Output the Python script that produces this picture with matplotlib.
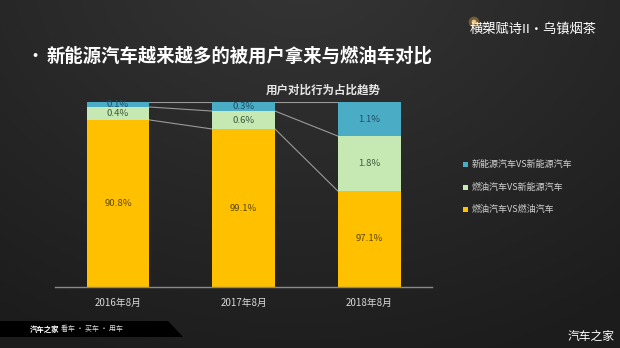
import numpy as np
import matplotlib
matplotlib.use("Agg")
import matplotlib.pyplot as plt
from matplotlib.patches import Polygon, Rectangle

plt.rcParams['font.family'] = ['Noto Sans CJK SC', 'DejaVu Sans']

# ---- data ----
categories = ["2016年8月", "2017年8月", "2018年8月"]
series_names = ["燃油汽车VS燃油汽车", "燃油汽车VS新能源汽车", "新能源汽车VS新能源汽车"]
# displayed segment heights as drawn in the reference (stylised, share of bar height)
fuel_fuel_h = [90.3, 85.4, 51.9]
fuel_nev_h = [7.0, 9.7, 29.7]
nev_nev_h = [2.7, 4.9, 18.4]
# printed labels
fuel_fuel_lbl = ["90.8%", "99.1%", "97.1%"]
fuel_nev_lbl = ["0.4%", "0.6%", "1.8%"]
nev_nev_lbl = ["0.1%", "0.3%", "1.1%"]

colors = ["#FFC000", "#C6E9B4", "#4BACC6"]
lbl_colors = ["#5e4800", "#3d5a3a", "#1f4f66"]

W, H = 620, 348
fig = plt.figure(figsize=(W / 100, H / 100), dpi=100)

# ---- background ----
bg = fig.add_axes([0, 0, 1, 1], zorder=-10)
yy, xx = np.mgrid[0:H, 0:W]
d = np.sqrt(((xx - 300) / 420.0) ** 2 + ((yy + 40) / 330.0) ** 2)
val = 0.21 - 0.10 * np.clip(d, 0, 1.3) / 1.3
img = np.dstack([val, val, val])
bg.imshow(img, extent=[0, W, H, 0], aspect='auto')
bg.set_xlim(0, W)
bg.set_ylim(H, 0)
bg.axis('off')

# bottom-left band
bg.add_patch(Polygon([[0, 321], [168, 321], [183, 337], [0, 337]], closed=True,
                     facecolor='black', edgecolor='none'))
bg.text(30, 329.5, "汽车之家", color='white', fontsize=5.3, fontweight='bold',
        va='center', ha='left')
bg.text(61, 329.5, "看车 · 买车 · 用车", color='#dddddd', fontsize=5.0,
        va='center', ha='left')
bg.text(615, 336, "汽车之家", color='white', fontsize=8.5, va='center', ha='right')

# logo
bg.scatter([474], [22], s=60, color='#ffb347', alpha=0.35, edgecolors='none')
bg.scatter([474], [22], s=12, color='#ffe0a0', alpha=0.8, edgecolors='none')
bg.text(533, 29, "横槊赋诗II·乌镇烟茶", color='white', fontsize=9.5,
        fontstyle='italic', va='center', ha='center')

# title & subtitle
bg.text(27, 56, "•", color='white', fontsize=11, fontweight='bold', va='center', ha='left')
bg.text(47, 56, "新能源汽车越来越多的被用户拿来与燃油车对比", color='white',
        fontsize=13.2, fontweight='bold', va='center', ha='left')
bg.text(323, 90, "用户对比行为占比趋势", color='#e6e6e6', fontsize=8.3,
        fontweight='bold', va='center', ha='center')

# legend (manual)
leg_y = [164, 187, 209]
for y, c, name in zip(leg_y, [colors[2], colors[1], colors[0]],
                      [series_names[2], series_names[1], series_names[0]]):
    bg.add_patch(Rectangle((463, y - 2.5), 5, 5, facecolor=c, edgecolor='none'))
    bg.text(472, y, name, color='#d0d0d0', fontsize=6.5, va='center', ha='left')

# ---- chart ----
ax = fig.add_axes([55.25 / W, 1 - 287 / H, (432 - 55.25) / W, (287 - 102) / H])
ax.set_facecolor('none')
x = np.arange(len(categories))
bw = 0.5
stacks = [fuel_fuel_h, fuel_nev_h, nev_nev_h]
labels = [fuel_fuel_lbl, fuel_nev_lbl, nev_nev_lbl]
bottom = np.zeros(len(categories))
bounds = [bottom.copy()]
for vals, c, lbls, lc in zip(stacks, colors, labels, lbl_colors):
    vals = np.array(vals)
    ax.bar(x, vals, bw, bottom=bottom, color=c, edgecolor='none', zorder=2)
    for i in range(len(x)):
        ax.text(x[i], bottom[i] + vals[i] / 2, lbls[i], ha='center', va='center',
                fontsize=6.9, color=lc, zorder=3)
    bottom = bottom + vals
    bounds.append(bottom.copy())

# series lines between bars
for b in bounds[1:]:
    for i in range(len(x) - 1):
        ax.plot([x[i] + bw / 2, x[i + 1] - bw / 2], [b[i], b[i + 1]],
                color='#9a9a9a', lw=0.8, zorder=1)

ax.set_xlim(-0.5, len(categories) - 0.5)
ax.set_ylim(0, 100)
ax.set_xticks(x)
ax.set_xticklabels(categories, color='#d9d9d9', fontsize=7)
ax.tick_params(axis='x', length=0, pad=8)
ax.set_yticks([])
for s in ['top', 'left', 'right']:
    ax.spines[s].set_visible(False)
ax.spines['bottom'].set_color('#8a8a8a')
ax.spines['bottom'].set_linewidth(1.0)

fig.savefig("out.png", dpi=100)
